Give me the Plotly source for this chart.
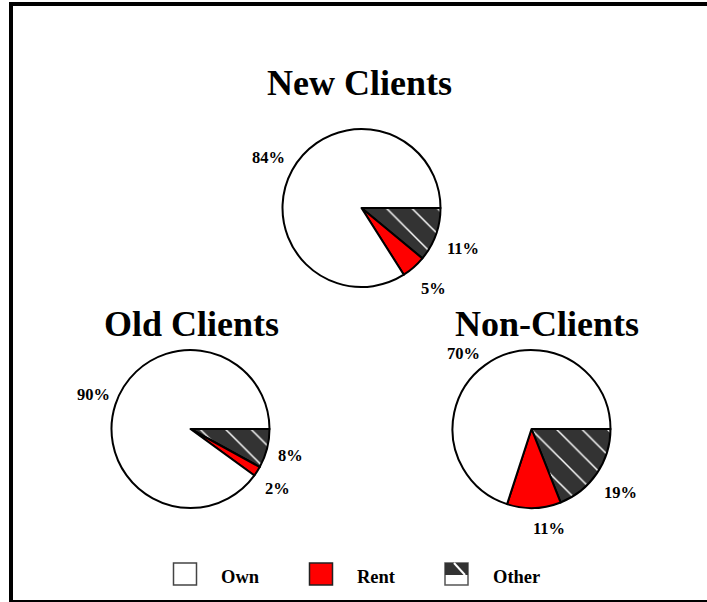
import plotly.graph_objects as go

W, H = 707, 602

# Housing status shares by client group (percent)
categories = ["Other", "Rent", "Own"]
groups = ["New Clients", "Old Clients", "Non-Clients"]
new_clients = [11, 5, 84]
old_clients = [8, 2, 90]
non_clients = [19, 11, 70]
legend_labels = ["Own", "Rent", "Other"]

values = [new_clients, old_clients, non_clients]

FONT = "Liberation Serif, Times New Roman, serif"
slice_colors = ["#333333", "#ff0000", "#ffffff"]


def px_x(x):
    return x / W


def px_y(y):
    return 1 - y / H


# pie centres and radius in pixels
centres = [(361.5, 208), (190.5, 429), (531.5, 429)]
radius = 79
title_pos = [(359, 83), (191, 324), (547, 324)]
# percent label positions, in slice order (Other, Rent, Own)
label_pos = [
    [(463, 248), (433, 288), (268, 157)],
    [(290, 455), (277, 488), (93, 394)],
    [(620, 492), (549, 528), (463, 353)],
]

fig = go.Figure()
annotations = []
shapes = []

for i, vals in enumerate(values):
    cx, cy = centres[i]
    fig.add_trace(go.Pie(
        labels=categories,
        values=vals,
        sort=False,
        direction="clockwise",
        rotation=90,
        textinfo="none",
        hoverinfo="label+percent",
        showlegend=False,
        marker=dict(
            colors=slice_colors,
            line=dict(color="black", width=2),
            pattern=dict(shape=["\\", "", ""], fgcolor="white",
                         bgcolor=slice_colors, fillmode="replace",
                         size=18, solidity=0.08),
        ),
        domain=dict(x=[px_x(cx - radius), px_x(cx + radius)],
                    y=[px_y(cy + radius), px_y(cy - radius)]),
    ))
    tx, ty = title_pos[i]
    annotations.append(dict(
        x=px_x(tx), y=px_y(ty), xref="paper", yref="paper",
        text="<b>%s</b>" % groups[i], showarrow=False,
        font=dict(family=FONT, size=36, color="black"),
        xanchor="center", yanchor="middle"))
    for j, v in enumerate(vals):
        lx, ly = label_pos[i][j]
        annotations.append(dict(
            x=px_x(lx), y=px_y(ly), xref="paper", yref="paper",
            text="<b>%d%%</b>" % v, showarrow=False,
            font=dict(family=FONT, size=16.5, color="black"),
            xanchor="center", yanchor="middle"))

# legend: boxes and labels
box_x = [173.5, 309.5, 445]
text_x = [219, 355, 491]
by0, by1 = 563, 585
for k, name in enumerate(legend_labels):
    x0 = box_x[k]
    x1 = x0 + 23
    if name == "Own":
        shapes.append(dict(type="rect", xref="paper", yref="paper",
                           x0=px_x(x0), x1=px_x(x1), y0=px_y(by1), y1=px_y(by0),
                           line=dict(color="#444444", width=1.5), fillcolor="white"))
    elif name == "Rent":
        shapes.append(dict(type="rect", xref="paper", yref="paper",
                           x0=px_x(x0), x1=px_x(x1), y0=px_y(by1), y1=px_y(by0),
                           line=dict(color="#222222", width=1.5), fillcolor="#ff0000"))
    else:
        shapes.append(dict(type="rect", xref="paper", yref="paper",
                           x0=px_x(x0), x1=px_x(x1), y0=px_y(by1), y1=px_y(by0),
                           line=dict(color="#555555", width=1.5), fillcolor="white"))
        shapes.append(dict(type="rect", xref="paper", yref="paper",
                           x0=px_x(x0), x1=px_x(x1), y0=px_y(575), y1=px_y(by0),
                           line=dict(width=0), fillcolor="#333333"))
        shapes.append(dict(type="line", xref="paper", yref="paper",
                           x0=px_x(x0 + 9), x1=px_x(x0 + 20), y0=px_y(by0), y1=px_y(575),
                           line=dict(color="white", width=2)))
    annotations.append(dict(
        x=px_x(text_x[k]), y=px_y(577), xref="paper", yref="paper",
        text="<b>%s</b>" % name, showarrow=False,
        font=dict(family=FONT, size=18.5, color="black"),
        xanchor="left", yanchor="middle"))

# outer frame (left, top and bottom edges)
shapes += [
    dict(type="line", xref="paper", yref="paper", x0=px_x(11), x1=px_x(11),
         y0=px_y(2), y1=px_y(602), line=dict(color="black", width=4)),
    dict(type="line", xref="paper", yref="paper", x0=px_x(9), x1=px_x(707),
         y0=px_y(4), y1=px_y(4), line=dict(color="black", width=4)),
    dict(type="line", xref="paper", yref="paper", x0=px_x(9), x1=px_x(707),
         y0=px_y(601), y1=px_y(601), line=dict(color="black", width=2)),
]

fig.update_layout(
    width=W, height=H,
    margin=dict(l=0, r=0, t=0, b=0),
    paper_bgcolor="white", plot_bgcolor="white",
    annotations=annotations, shapes=shapes,
)

fig.write_html("out.html")
